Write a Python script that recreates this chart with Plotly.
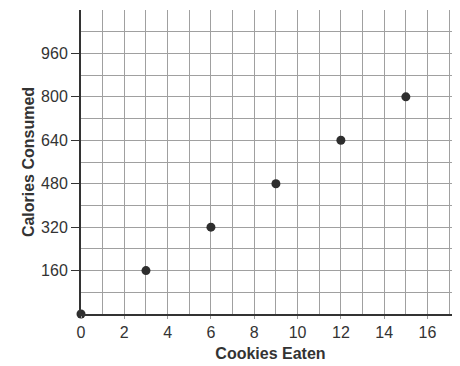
import plotly.graph_objects as go

cookies = [0, 3, 6, 9, 12, 15]
calories = [0, 160, 320, 480, 640, 800]
x_ticks = [0, 2, 4, 6, 8, 10, 12, 14, 16]
y_ticks = [160, 320, 480, 640, 800, 960]

fig = go.Figure(go.Scatter(
    x=cookies, y=calories, mode="markers",
    marker=dict(color="#2e2e2e", size=9),
    cliponaxis=False,
))

font = "Liberation Sans, Arial, sans-serif"
# page body has an 8px default margin, so the figure is sized to fill the rest
fig.update_layout(
    width=452, height=358,
    margin=dict(l=73, r=0, t=2, b=52),
    paper_bgcolor="white", plot_bgcolor="white",
    showlegend=False,
    font=dict(family=font, color="#333333", size=16),
)
fig.update_xaxes(
    range=[0, 17.5], tickvals=x_ticks, ticks="outside", ticklen=3, tickcolor="#999999",
    showgrid=True, gridcolor="#a0a0a0", gridwidth=1,
    minor=dict(dtick=1, showgrid=True, gridcolor="#a0a0a0", gridwidth=1),
    showline=True, linecolor="#333333", linewidth=2,
    zeroline=False, automargin=False,
    title=dict(text="<b>Cookies Eaten</b>", font=dict(size=16, family=font, color="#333333"), standoff=8),
)
fig.update_yaxes(
    range=[0, 1120], tickvals=y_ticks, ticks="outside", ticklen=8, tickcolor="#333333",
    showgrid=True, gridcolor="#a0a0a0", gridwidth=1,
    minor=dict(dtick=80, showgrid=True, gridcolor="#a0a0a0", gridwidth=1),
    showline=True, linecolor="#333333", linewidth=2,
    zeroline=False, automargin=False,
    title=dict(text="<b>Calories Consumed</b>", font=dict(size=16, family=font, color="#333333"), standoff=2),
)
fig.write_html("out.html")
